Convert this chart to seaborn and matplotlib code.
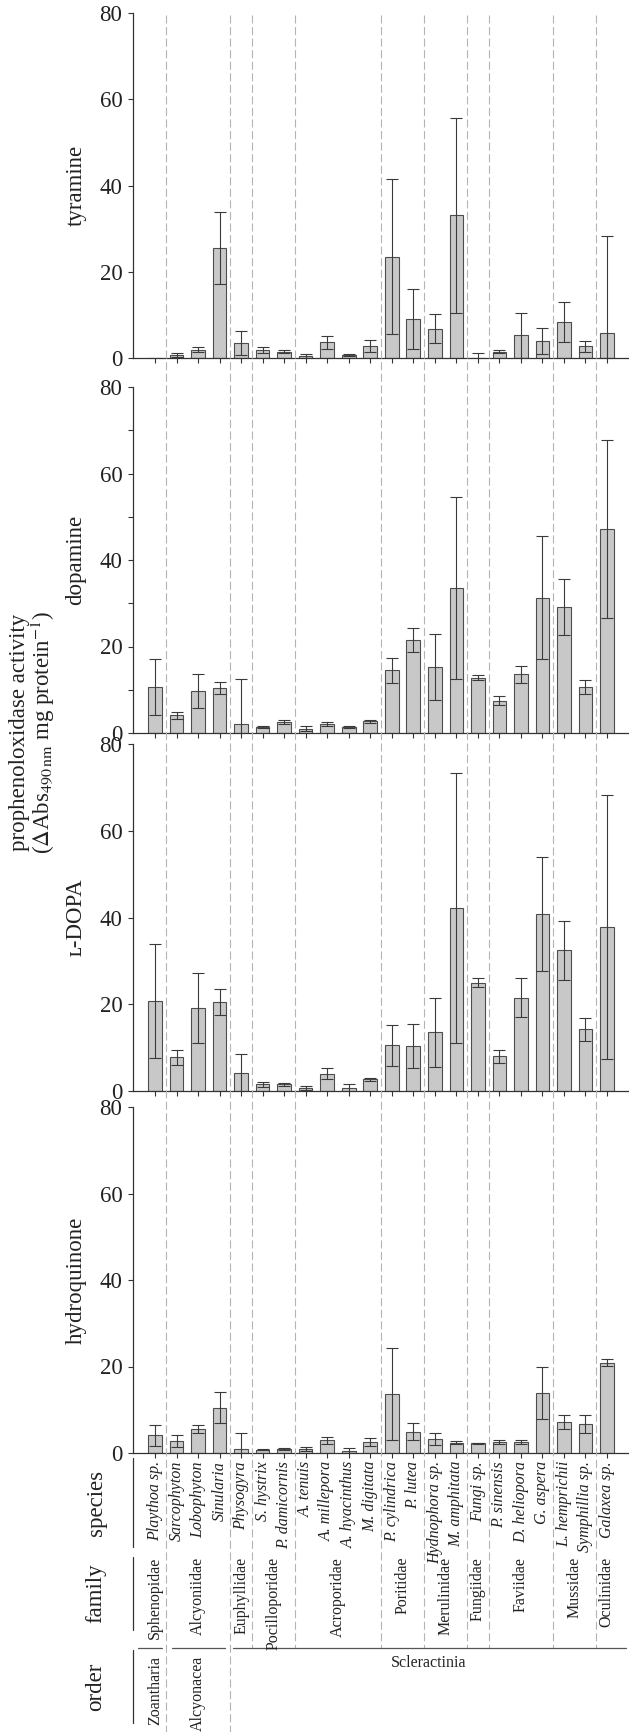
import numpy as np
import pandas as pd
import matplotlib
matplotlib.use("Agg")
import matplotlib.pyplot as plt
import seaborn as sns

# ---- data ----
species = ["Playthoa sp.", "Sarcophyton", "Lobophyton", "Sinularia", "Physogyra",
           "S. hystrix", "P. damicornis", "A. tenuis", "A. millepora", "A. hyacinthus",
           "M. digitata", "P. cylindrica", "P. lutea", "Hydnophora sp.", "M. amphitata",
           "Fungi sp.", "P. sinensis", "D. heliopora", "G. aspera", "L. hemprichii",
           "Symphillia sp.", "Galaxea sp."]
family = ["Sphenopidae", "Alcyoniidae", "Alcyoniidae", "Alcyoniidae", "Euphyllidae",
          "Pocilloporidae", "Pocilloporidae", "Acroporidae", "Acroporidae", "Acroporidae",
          "Acroporidae", "Poritidae", "Poritidae", "Merulinidae", "Merulinidae",
          "Fungiidae", "Faviidae", "Faviidae", "Faviidae", "Mussidae", "Mussidae",
          "Oculinidae"]
order = ["Zoantharia"] + ["Alcyonacea"] * 3 + ["Scleractinia"] * 18

tyramine_mean = [0, 0.7, 1.9, 25.5, 3.5, 1.8, 1.4, 0.5, 3.6, 0.7, 2.8,
                 23.5, 9.0, 6.8, 33.1, 0.1, 1.5, 5.3, 3.9, 8.3, 2.7, 5.8]
tyramine_err = [np.nan, 0.4, 0.55, 8.3, 2.8, 0.75, 0.35, 0.5, 1.55, 0.3, 1.4,
                18.0, 6.9, 3.4, 22.6, 1.1, 0.4, 5.2, 3.0, 4.7, 1.2, 22.4]

dopamine_mean = [10.6, 4.1, 9.7, 10.4, 2.1, 1.45, 2.45, 1.0, 2.1, 1.45, 2.75,
                 14.5, 21.5, 15.2, 33.6, 12.8, 7.5, 13.6, 31.3, 29.1, 10.7, 47.1]
dopamine_err = [6.5, 0.8, 4.0, 1.4, 10.5, 0.2, 0.45, 0.6, 0.55, 0.25, 0.35,
                2.9, 2.8, 7.6, 21.0, 0.5, 1.1, 2.0, 14.3, 6.5, 1.6, 20.6]

ldopa_mean = [20.8, 7.8, 19.1, 20.5, 4.15, 1.5, 1.5, 0.7, 4.0, 0.6, 2.7,
              10.5, 10.3, 13.5, 42.1, 25.0, 8.0, 21.5, 40.8, 32.5, 14.2, 37.8]
ldopa_err = [13.2, 1.7, 8.0, 3.0, 4.4, 0.6, 0.3, 0.4, 1.3, 0.9, 0.4,
             4.7, 5.1, 7.9, 31.1, 1.05, 1.55, 4.5, 13.2, 6.8, 2.6, 30.4]

hydroquinone_mean = [4.1, 2.7, 5.6, 10.5, 0.9, 0.8, 1.0, 0.9, 2.9, 0.55, 2.6,
                     13.6, 4.9, 3.3, 2.4, 2.2, 2.5, 2.5, 13.9, 7.2, 6.8, 20.9]
hydroquinone_err = [2.45, 1.4, 0.9, 3.5, 3.8, 0.15, 0.2, 0.4, 0.8, 0.65, 0.9,
                    10.7, 2.0, 1.4, 0.4, 0.15, 0.4, 0.5, 6.1, 1.6, 2.1, 0.8]

substrates = ["tyramine", "dopamine", "\u029f-DOPA", "hydroquinone"]
means = [tyramine_mean, dopamine_mean, ldopa_mean, hydroquinone_mean]
errs = [tyramine_err, dopamine_err, ldopa_err, hydroquinone_err]

# ---- style ----
sns.set_theme(style="ticks")
plt.rcParams["font.family"] = ["Liberation Serif", "DejaVu Serif"]
plt.rcParams["mathtext.fontset"] = "stix"
TXT = "#222222"
AX = "#333333"

W, H = 629, 1732
fig = plt.figure(figsize=(W / 100, H / 100), dpi=100)
fig.patch.set_facecolor("white")

X0, X1 = 133, 629
XLIM = (-1.03, 22.03)
panel_px = [(13, 358), (387, 733), (744, 1091), (1107, 1453)]  # top, bottom pixel rows

n = len(species)
xs = np.arange(n)

for k, (name, m, e) in enumerate(zip(substrates, means, errs)):
    top, bot = panel_px[k]
    ax = fig.add_axes([X0 / W, 1 - bot / H, (X1 - X0) / W, (bot - top) / H])
    ax.patch.set_visible(False)
    df = pd.DataFrame({"species": species, "value": m})
    sns.barplot(data=df, x="species", y="value", order=species, color="#c8c8c8",
                saturation=1, edgecolor="#4d4d4d", linewidth=0.8, width=0.63,
                errorbar=None, ax=ax)
    ax.errorbar(xs, m, yerr=e, fmt="none", ecolor="#3a3a3a", elinewidth=0.8,
                capsize=4.3, capthick=0.8)
    ax.set_xlim(*XLIM)
    ax.set_ylim(0, 80)
    ax.set_yticks([0, 20, 40, 60, 80])
    if name == "dopamine":
        ax.set_yticks([10, 30, 50, 70], minor=True)
    ax.set_xticks(xs)
    ax.set_xticklabels([])
    ax.set_xlabel("")
    ax.set_ylabel("")
    sns.despine(ax=ax)
    for s in ["left", "bottom"]:
        ax.spines[s].set_color(AX)
        ax.spines[s].set_linewidth(0.9)
    ax.tick_params(which="both", direction="out", length=3.6, width=0.8,
                   color=AX, labelsize=16.5, labelcolor=TXT, pad=4)
    ax.text(-0.115, 0.5, name, transform=ax.transAxes, rotation=90,
            ha="center", va="center", fontsize=16.5, color=TXT)

# common y label
fig.text(20 / W, 1 - 732 / H, "prophenoloxidase activity", rotation=90,
         ha="center", va="center", fontsize=16.5, color=TXT)
fig.text(43 / W, 1 - 732 / H,
         r"($\Delta$Abs$_{490\,\mathrm{nm}}$ mg protein$^{-1}$)", rotation=90,
         ha="center", va="center", fontsize=16.5, color=TXT)

# ---- overlay for dashed separators and taxonomy table (y in pixel rows) ----
ov = fig.add_axes([X0 / W, 0, (X1 - X0) / W, 1])
ov.set_xlim(*XLIM)
ov.set_ylim(H, 0)
ov.axis("off")
ov.patch.set_visible(False)


def groups(labels):
    out = []
    start = 0
    for i in range(1, len(labels) + 1):
        if i == len(labels) or labels[i] != labels[start]:
            out.append((labels[start], start, i - 1))
            start = i
    return out


fam_groups = groups(family)
ord_groups = groups(order)
ord_breaks = [g[2] + 0.5 for g in ord_groups[:-1]]
for _, a, b in fam_groups[:-1]:
    xb = b + 0.5
    y_end = H if xb in ord_breaks else 1648
    ov.plot([xb, xb], [15, y_end], color="#b4b4b4", lw=0.8,
            ls=(0, (7.2, 3.2)), clip_on=False)

# species
for i, sp in enumerate(species):
    ov.text(i, 1461, sp, rotation=90, ha="center", va="top", fontsize=11.5,
            style="italic", color=TXT)
# family
for fam, a, b in fam_groups:
    ov.text((a + b) / 2, 1557, fam, rotation=90, ha="center", va="top",
            fontsize=11.5, color=TXT)
# order
for od, a, b in ord_groups:
    if od == "Scleractinia":
        ov.text((a + b) / 2 + 0.2, 1663, od, ha="center", va="center",
                fontsize=11.5, color=TXT)
    else:
        ov.text((a + b) / 2, 1656, od, rotation=90, ha="center", va="top",
                fontsize=11.5, color=TXT)

# order brackets under the family row
for xa, xb in [(-0.8, 0.34), (0.8, 3.25), (3.62, 21.9)]:
    ov.plot([xa, xb], [1648, 1648], color="#555555", lw=0.9, clip_on=False)

# table left rule segments and row titles
for (ya, yb), lab in zip([(1458, 1547), (1557, 1630), (1650, 1723)],
                         ["species", "family", "order"]):
    ov.plot([XLIM[0], XLIM[0]], [ya, yb], color=AX, lw=0.9, clip_on=False)
    ov.text(-2.75, (ya + yb) / 2, lab, rotation=90, ha="center", va="center",
            fontsize=16.5, color=TXT)

fig.savefig("out.png", dpi=100)
